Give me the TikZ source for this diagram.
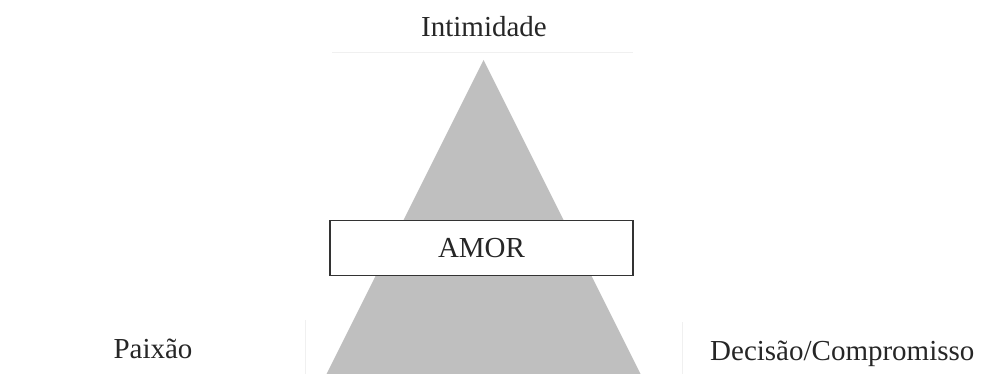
\documentclass[tikz,border=0pt]{standalone}
\usepackage{fontspec}
\setmainfont{Liberation Serif}
\begin{document}
\begin{tikzpicture}[x=1pt,y=-1pt,
  lbl/.style={inner sep=0pt, font=\fontsize{29}{32}\selectfont, text=black!85},
  amorbox/.style={draw=black!80, line width=1.8pt, fill=white, minimum width=303pt, minimum height=55pt, inner sep=0pt, font=\fontsize{29}{32}\selectfont, text=black!85},
  faint/.style={draw=black!6, line width=1pt}]
\useasboundingbox (0,0) rectangle (981,374);
% faint crop artifacts
\draw[faint] (332,53) -- (633,53);
\draw[faint] (305,320) -- (305,374);
\draw[faint] (682,322) -- (682,374);
% triangle
\coordinate (apex) at (483.5,60);
\coordinate (bl) at (323.5,380);
\coordinate (br) at (643.5,380);
\fill[black!25] (apex) -- (br) -- (bl) -- cycle;
% box
\node[amorbox] (amor) at (481.5,248) {AMOR};
% labels
\node[lbl, anchor=base] (intim) at (484,37) {Intimidade};
\node[lbl, anchor=base] (paix) at (153,358) {Paixão};
\node[lbl, anchor=base west] (dec) at (710,360) {Decisão/Compromisso};
\end{tikzpicture}
\end{document}
